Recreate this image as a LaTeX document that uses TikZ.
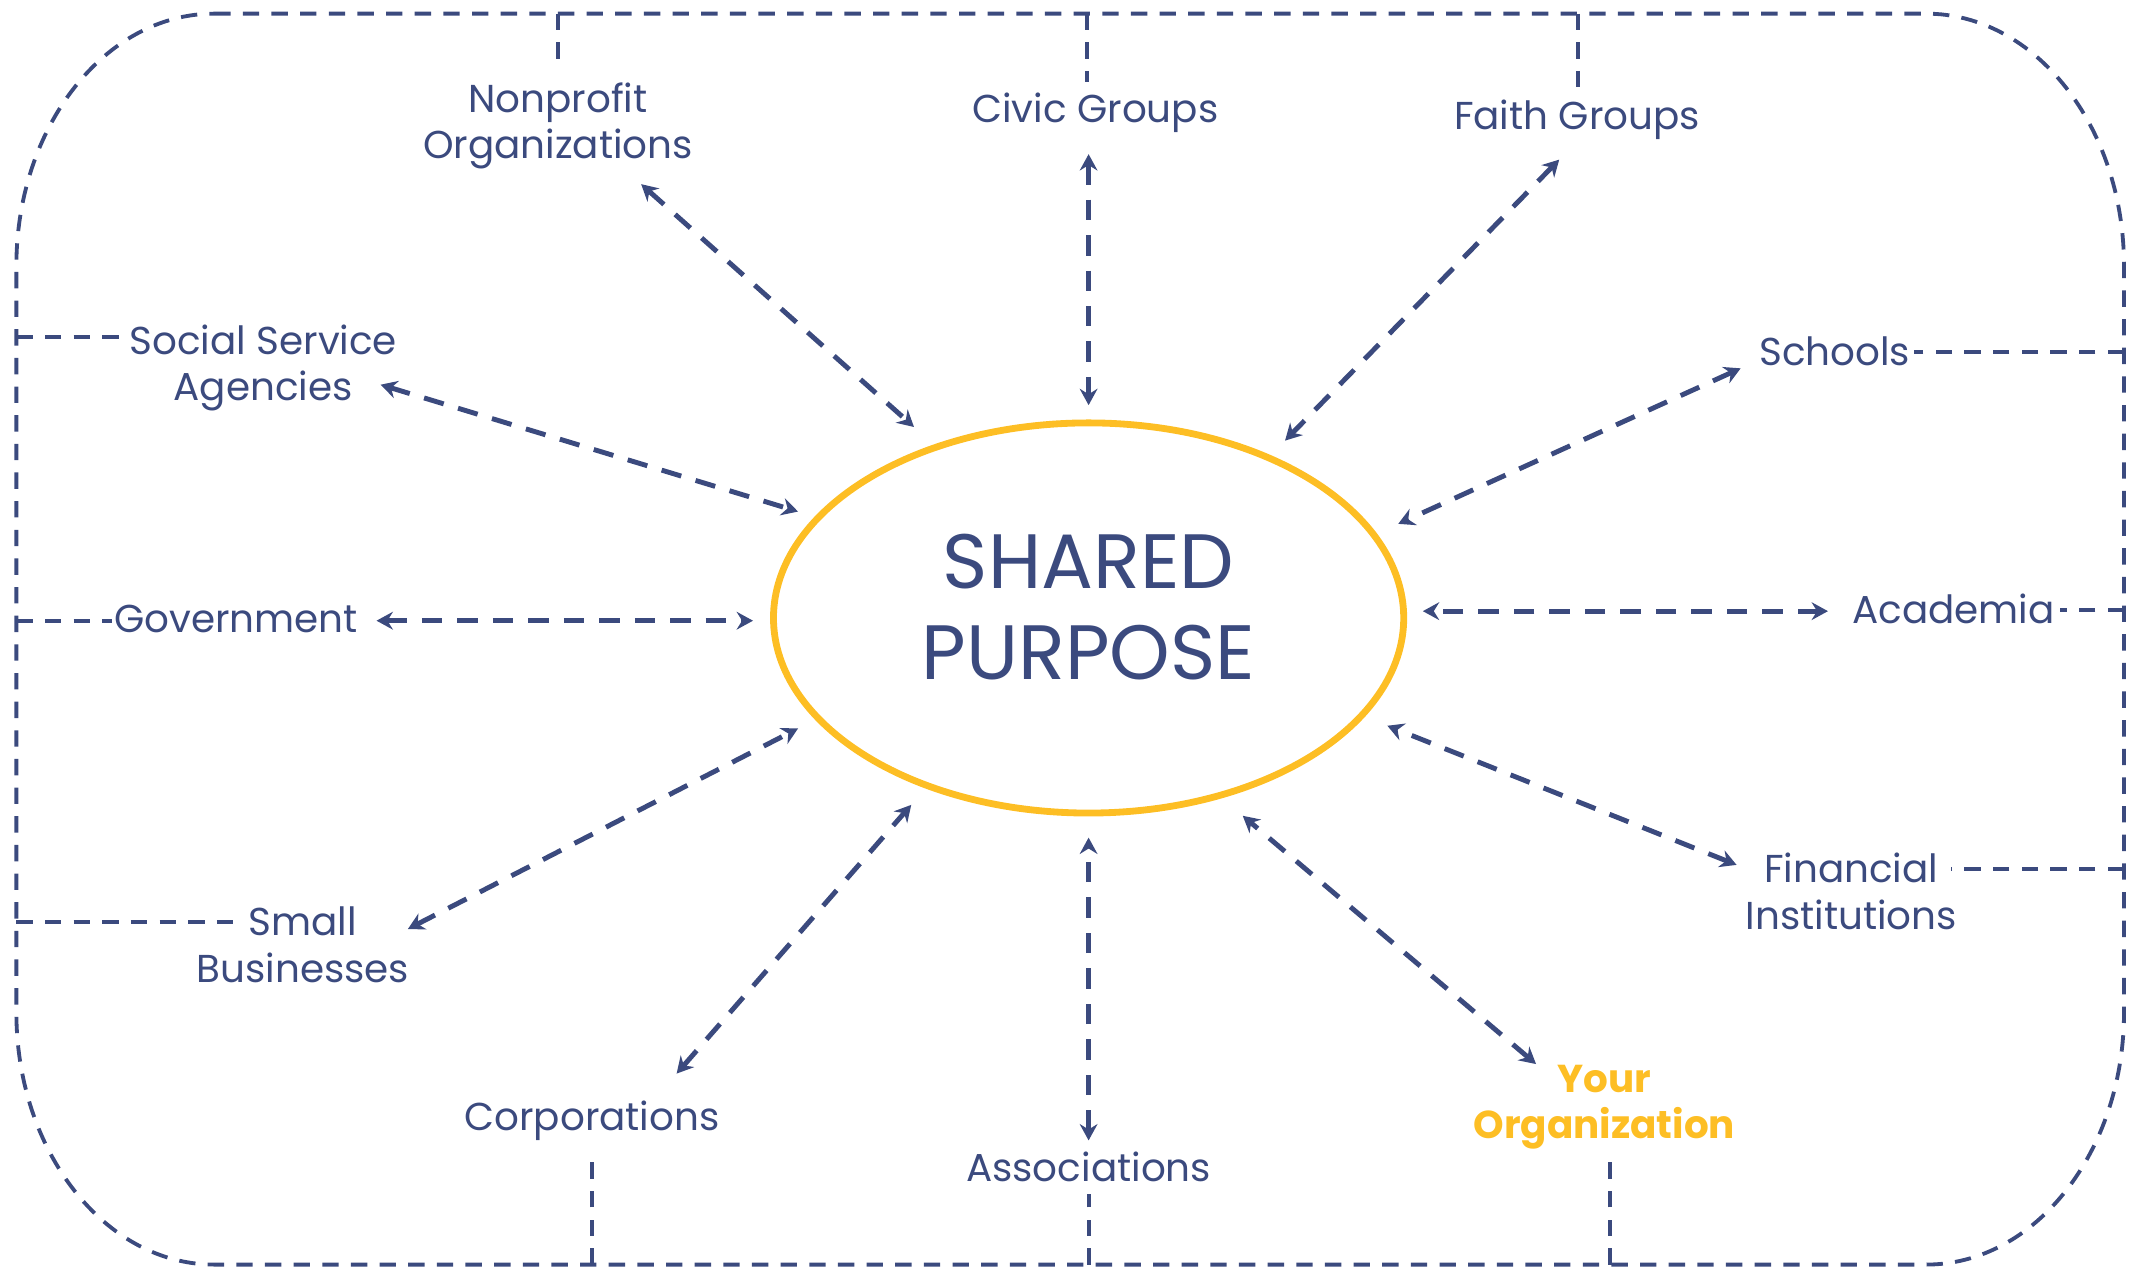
\documentclass[tikz,border=0pt]{standalone}
\usepackage{fontspec}
\setmainfont{Poppins}
\usetikzlibrary{arrows.meta,shapes.geometric}
\definecolor{navy}{HTML}{3B4A7E}
\definecolor{gold}{HTML}{FDBE24}
\begin{document}
\begin{tikzpicture}[x=1pt,y=-1pt,
  lbl/.style={text=navy, font=\fontsize{28.5}{34}\selectfont, align=center, inner sep=0pt},
  arr/.style={draw=navy, line width=3.6pt, dash pattern=on 15pt off 11pt,
    {Stealth[length=12pt,width=13pt,inset=4pt]}-{Stealth[length=12pt,width=13pt,inset=4pt]}},
  tie/.style={draw=navy, line width=2.8pt, dash pattern=on 12pt off 9pt},
]
\useasboundingbox (0,0) rectangle (1568,930);

% outer border
\draw[tie] (157,10) -- (1412,10) .. controls (1492,10) and (1557,93) .. (1557,195)
  -- (1557,742) .. controls (1557,844) and (1492,927) .. (1412,927)
  -- (157,927) .. controls (77,927) and (12,844) .. (12,742)
  -- (12,195) .. controls (12,93) and (77,10) .. (157,10) -- cycle;

% centre
\node (core) [ellipse, draw=gold, line width=5pt, minimum width=462pt, minimum height=286pt, inner sep=0pt] at (798,453) {};
\node (title) [text=navy, font=\fontsize{56.5}{66}\selectfont, align=center, inner sep=0pt] at (798,445) {SHARED\\PURPOSE};

% labels
\node (np) [lbl] at (409,92.5) {Nonprofit\\Organizations};
\node (cg) [lbl, anchor=base] at (803,90) {Civic Groups};
\node (fg) [lbl, anchor=base] at (1156,95) {Faith Groups};
\node (ss) [lbl] at (193,269.5) {Social Service\\Agencies};
\node (sc) [lbl, anchor=base] at (1345,268) {Schools};
\node (gv) [lbl, anchor=base] at (173,464) {Government};
\node (ac) [lbl, anchor=base] at (1432,457) {Academia};
\node (sb) [lbl] at (222,692.5) {Small\\Businesses};
\node (fi) [lbl] at (1357,653.5) {Financial\\Institutions};
\node (co) [lbl, anchor=base] at (434,829) {Corporations};
\node (as) [lbl, anchor=base] at (798,866) {Associations};
\node (yo) [lbl, text=gold, font=\fontsize{28.5}{34}\selectfont\bfseries] at (1176,811.5) {Your\\Organization};

% arrow end points
\coordinate (npA) at (470,135);  \coordinate (npB) at (670,313);
\coordinate (cgA) at (798,113);  \coordinate (cgB) at (798,297);
\coordinate (fgA) at (1143,117); \coordinate (fgB) at (942,323);
\coordinate (ssA) at (279,282);  \coordinate (ssB) at (585,375);
\coordinate (scA) at (1276,270); \coordinate (scB) at (1025,384);
\coordinate (gvA) at (276,455);  \coordinate (gvB) at (552,455);
\coordinate (acA) at (1340,448); \coordinate (acB) at (1043,448);
\coordinate (fiA) at (1273,634); \coordinate (fiB) at (1017,532);
\coordinate (sbA) at (299,681);  \coordinate (sbB) at (585,534);
\coordinate (coA) at (496,787);  \coordinate (coB) at (668,590);
\coordinate (asA) at (798,836);  \coordinate (asB) at (798,614);
\coordinate (yoA) at (1126,780); \coordinate (yoB) at (911,598);

\foreach \n in {np,cg,fg,ss,sc,gv,ac,fi,sb,co,as,yo}
  \draw[arr] (\n A) -- (\n B);

% ties to border
\coordinate (tnp1) at (409,10);  \coordinate (tnp2) at (409,50);
\coordinate (tcg1) at (797,10);  \coordinate (tcg2) at (797,60);
\coordinate (tfg1) at (1157,10); \coordinate (tfg2) at (1157,68);
\coordinate (tss1) at (12,247);  \coordinate (tss2) at (90,247);
\coordinate (tsc1) at (1557,258);\coordinate (tsc2) at (1403,258);
\coordinate (tgv1) at (12,455);  \coordinate (tgv2) at (82,455);
\coordinate (tac1) at (1557,447);\coordinate (tac2) at (1510,447);
\coordinate (tsb1) at (12,676);  \coordinate (tsb2) at (176,676);
\coordinate (tfi1) at (1557,637);\coordinate (tfi2) at (1430,637);
\coordinate (tco1) at (434,927); \coordinate (tco2) at (434,850);
\coordinate (tas1) at (798,927); \coordinate (tas2) at (798,875);
\coordinate (tyo1) at (1180,927);\coordinate (tyo2) at (1180,850);
\foreach \n in {np,cg,fg,ss,sc,gv,ac,sb,fi,co,as,yo}
  \draw[tie] (t\n 1) -- (t\n 2);
\end{tikzpicture}
\end{document}
